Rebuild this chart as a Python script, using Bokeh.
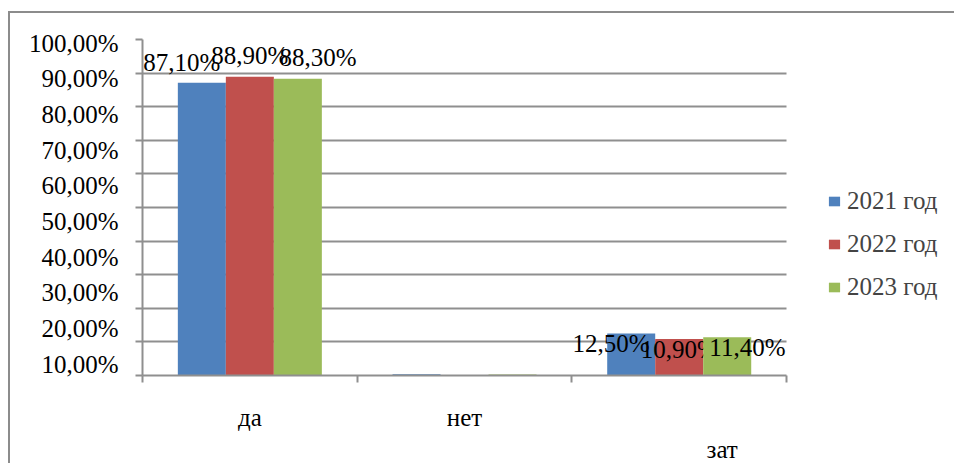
from bokeh.plotting import figure
from bokeh.models import (Range1d, LinearAxis, FixedTicker, ColumnDataSource, Legend,
                          LegendItem, Grid)
from bokeh.core.properties import value
from bokeh.embed import file_html
from bokeh.resources import INLINE

# ---- data ----
categories = ["да", "нет", "зат"]
series_names = ["2021 год", "2022 год", "2023 год"]
values_2021 = [87.1, 0.4, 12.5]
values_2022 = [88.9, 0.0, 10.9]
values_2023 = [88.3, 0.3, 11.4]
show_label = [True, False, True]
grid_ticks = [0, 10, 20, 30, 40, 50, 60, 70, 80, 90, 100]
label_ticks = [10, 20, 30, 40, 50, 60, 70, 80, 90, 100]
label_tick_texts = ["10,00%", "20,00%", "30,00%", "40,00%", "50,00%",
                    "60,00%", "70,00%", "80,00%", "90,00%", "100,00%"]
colors = ["#4F81BD", "#C0504D", "#9BBB59"]

FONT = "Liberation Serif"
FS = "25px"
GRID = "#8f8f8f"

series = [values_2021, values_2022, values_2023]
n_cat = len(categories)
bar_w = 0.2236
offsets = [-bar_w, 0.0, bar_w]
LABEL_SPREAD = 1.42

LA, LB = 3.38, 1.0617
def main_to_lab(m):
    return 10 + (m - LA) / LB

X_END = 3.745  # plot area continues to the right to hold the legend

p = figure(width=946, height=452, x_range=Range1d(0, X_END), y_range=Range1d(0, 100),
           output_backend="svg", toolbar_location=None,
           x_axis_location=None, y_axis_location=None,
           min_border_left=132, min_border_right=10, min_border_top=26, min_border_bottom=79)
p.extra_y_ranges = {"ylab": Range1d(main_to_lab(0), main_to_lab(100)),
                    "dlab": Range1d(3.95, 93.21)}
p.outline_line_color = None
p.background_fill_color = "white"
p.border_fill_color = "white"
p.styles = {"border-top": "2px solid #8c8c8c", "border-left": "2px solid #8c8c8c",
            "margin-left": "8px", "margin-top": "11px"}

# drop default grids
for g in list(p.center):
    if isinstance(g, Grid):
        g.visible = False

if "cross_bounds" in Grid.properties():
    p.add_layout(Grid(dimension=1, ticker=FixedTicker(ticks=grid_ticks), cross_bounds=(0, n_cat),
                      grid_line_color=GRID, grid_line_width=2))
else:
    p.segment(x0=[0] * len(grid_ticks), x1=[n_cat] * len(grid_ticks), y0=grid_ticks,
              y1=grid_ticks, line_color=GRID, line_width=2)

yax = LinearAxis(y_range_name="ylab",
                 ticker=FixedTicker(ticks=label_ticks,
                                    minor_ticks=[main_to_lab(g) for g in grid_ticks]),
                 major_label_overrides={t: s for t, s in zip(label_ticks, label_tick_texts)},
                 axis_line_color=GRID, axis_line_width=2,
                 major_tick_line_color=None, major_tick_out=0, major_tick_in=0,
                 minor_tick_line_color=GRID, minor_tick_line_width=2,
                 minor_tick_out=7, minor_tick_in=0,
                 major_label_standoff=17, major_label_text_font=FONT,
                 major_label_text_font_size=FS, major_label_text_color="black")
p.add_layout(yax, "left")

cat_pos = [0.5, 1.5, 2.7]
cat_txt = [categories[0], categories[1], "\n" + categories[2]]
xax = LinearAxis(ticker=FixedTicker(ticks=cat_pos, minor_ticks=list(range(n_cat + 1))),
                 bounds=(0, n_cat),
                 major_label_overrides={t: s for t, s in zip(cat_pos, cat_txt)},
                 axis_line_color=GRID, axis_line_width=2,
                 major_tick_line_color=None, major_tick_out=0, major_tick_in=0,
                 minor_tick_line_color=GRID, minor_tick_line_width=2,
                 minor_tick_out=7, minor_tick_in=0,
                 major_label_standoff=21, major_label_text_font=FONT,
                 major_label_text_font_size=FS, major_label_text_color="black")
p.add_layout(xax, "below")

items = []
for j, vals in enumerate(series):
    xs = [i + 0.5 + offsets[j] for i in range(n_cat)]
    src = ColumnDataSource(dict(x=xs, top=vals))
    r = p.vbar(x="x", top="top", width=bar_w, source=src, fill_color=colors[j], line_color=None)
    items.append(LegendItem(label=series_names[j], renderers=[r]))
    lx = [i + 0.5 + offsets[j] * LABEL_SPREAD for i in range(n_cat) if show_label[i]]
    ly = [v for i, v in enumerate(vals) if show_label[i]]
    lt = [("%.2f%%" % v).replace(".", ",") for i, v in enumerate(vals) if show_label[i]]
    p.text(x=lx, y=ly, text=lt, y_range_name="dlab", text_align="center",
           text_baseline="middle", text_font=value(FONT), text_font_size=FS, text_color="black")

legend = Legend(items=items, location=(685, 73), border_line_color=None,
                background_fill_alpha=0, glyph_width=14, glyph_height=12, label_standoff=6,
                label_text_font=FONT, label_text_font_size=FS, label_height=30, spacing=13,
                padding=0, margin=0)
p.add_layout(legend)

open("out.html", "w").write(file_html(p, INLINE))
